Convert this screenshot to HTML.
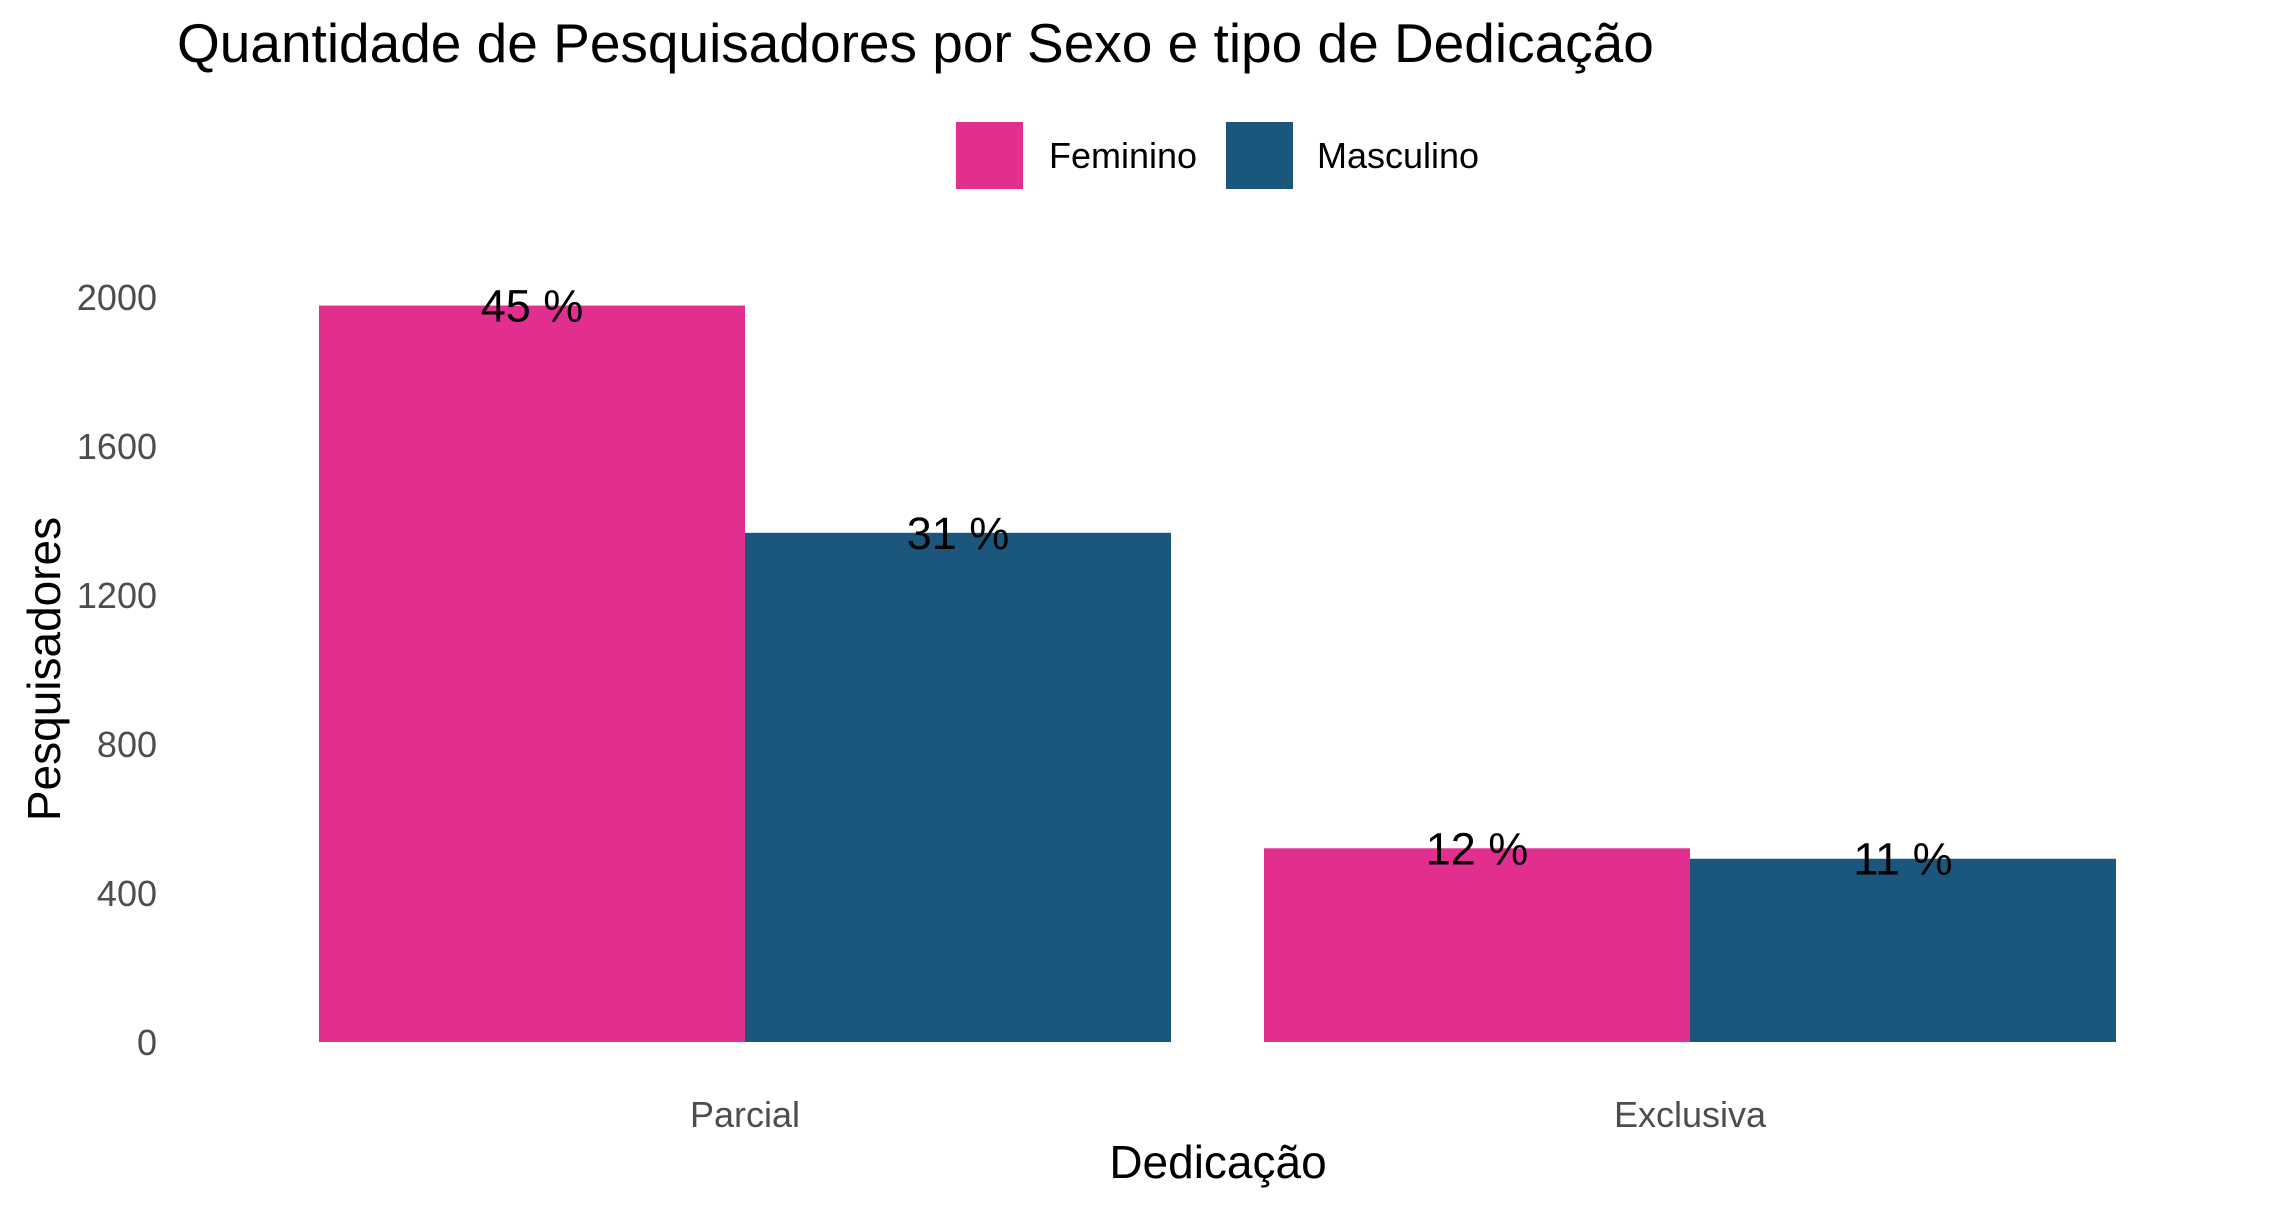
<!DOCTYPE html>
<html><head><meta charset="utf-8"><style>
body{margin:0;background:#fff}
svg text{font-family:"Liberation Sans",Arial,sans-serif}
</style></head><body>
<svg id="chart" width="2282" height="1208" xmlns="http://www.w3.org/2000/svg">
<text x="177" y="62" font-size="55" fill="#000">Quantidade de Pesquisadores por Sexo e tipo de Dedicação</text>
<g>
<rect x="956" y="122" width="67" height="67" fill="#E22E8F"/>
<text x="1049" y="168" font-size="36" fill="#000">Feminino</text>
<rect x="1226" y="122" width="67" height="67" fill="#1B577C"/>
<text x="1317" y="168" font-size="36" fill="#000">Masculino</text>
</g>
<g id="yticks"></g><g id="bars"></g><g id="labels"></g><g id="xticks"></g>
<text transform="translate(60,669) rotate(-90)" text-anchor="middle" font-size="46" fill="#000">Pesquisadores</text>
<text x="1218" y="1178" text-anchor="middle" font-size="46" fill="#000">Dedicação</text>
</svg>
<script>
const categories = ["Parcial", "Exclusiva"];
const feminino = [1977, 520];
const masculino = [1367, 492];
const pctFeminino = ["45 %", "12 %"];
const pctMasculino = ["31 %", "11 %"];
const yTicks = [0, 400, 800, 1200, 1600, 2000];
const NS = "http://www.w3.org/2000/svg";
const y0 = 1042, y2000 = 297;
const yScale = v => y0 - (v / 2000) * (y0 - y2000);
const xCenter = i => 745 + i * 945;
const barW = 426;
function mk(tag, attrs, parent, txt) {
  const e = document.createElementNS(NS, tag);
  for (const k in attrs) e.setAttribute(k, attrs[k]);
  if (txt !== undefined) e.textContent = txt;
  document.getElementById(parent).appendChild(e);
  return e;
}
yTicks.forEach(t => {
  const e = mk("text", {x: 157, y: yScale(t) + 13, "text-anchor": "end", "font-size": 36, fill: "#4D4D4D"}, "yticks", String(t));
  
  
});
categories.forEach((c, i) => {
  const cx = xCenter(i);
  const f = mk("rect", {x: cx - barW, y: yScale(feminino[i]), width: barW, height: y0 - yScale(feminino[i]), fill: "#E22E8F"}, "bars");
  
  
  const m = mk("rect", {x: cx, y: yScale(masculino[i]), width: barW, height: y0 - yScale(masculino[i]), fill: "#1B577C"}, "bars");
  
  
  const lf = mk("text", {x: cx - barW / 2, y: yScale(feminino[i]) + 16, "text-anchor": "middle", "font-size": 45, fill: "#000"}, "labels", pctFeminino[i]);
  
  
  const lm = mk("text", {x: cx + barW / 2, y: yScale(masculino[i]) + 16, "text-anchor": "middle", "font-size": 45, fill: "#000"}, "labels", pctMasculino[i]);
  
  
  const xt = mk("text", {x: cx, y: 1127, "text-anchor": "middle", "font-size": 36, fill: "#4D4D4D"}, "xticks", c);
  
  
});
</script>
</body></html>
